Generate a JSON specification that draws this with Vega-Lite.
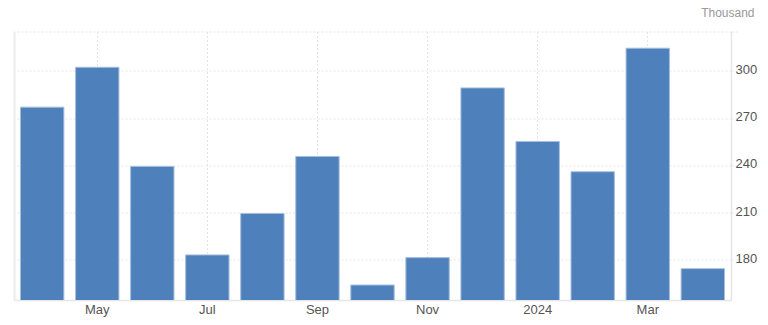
{
  "$schema": "https://vega.github.io/schema/vega-lite/v6.json",
  "width": 717,
  "height": 268.5,
  "autosize": {"type": "none"},
  "padding": {"left": 14, "top": 31.5, "right": 37, "bottom": 25},
  "background": "#ffffff",
  "data": {
    "values": [
      {"month": "2023-04", "value": 277},
      {"month": "2023-05", "value": 302.3},
      {"month": "2023-06", "value": 239.4},
      {"month": "2023-07", "value": 183.2},
      {"month": "2023-08", "value": 209.5},
      {"month": "2023-09", "value": 245.7},
      {"month": "2023-10", "value": 164.1},
      {"month": "2023-11", "value": 181.5},
      {"month": "2023-12", "value": 289.2},
      {"month": "2024-01", "value": 255.2},
      {"month": "2024-02", "value": 236},
      {"month": "2024-03", "value": 314.4},
      {"month": "2024-04", "value": 174.5}
    ]
  },
  "encoding": {
    "x": {
      "field": "month",
      "type": "ordinal",
      "scale": {"paddingInner": 0.212, "paddingOuter": 0.118},
      "axis": {
        "title": null,
        "labelAngle": 0,
        "ticks": false,
        "labelPadding": 3,
        "labelFontSize": 13,
        "labelColor": "#555555",
        "labelFont": "Liberation Sans",
        "domainColor": "#e6e6e6",
        "domainWidth": 1.5,
        "labelExpr": "datum.value == '2023-05' ? 'May' : datum.value == '2023-07' ? 'Jul' : datum.value == '2023-09' ? 'Sep' : datum.value == '2023-11' ? 'Nov' : datum.value == '2024-01' ? '2024' : datum.value == '2024-03' ? 'Mar' : ''",
        "grid": true,
        "gridColor": "#e4e4e4",
        "gridDash": [2, 2],
        "gridOpacity": {
          "condition": {"test": "indexof(['2023-05','2023-07','2023-09','2023-11','2024-01','2024-03'], datum.value) >= 0", "value": 1},
          "value": 0
        }
      }
    }
  },
  "layer": [
    {
      "mark": {"type": "bar", "opacity": 0, "clip": true},
      "encoding": {
        "y": {
          "field": "value",
          "type": "quantitative",
          "scale": {"domain": [154.6, 325], "zero": false, "nice": false},
          "axis": {
            "orient": "left",
            "title": null,
            "labels": false,
            "ticks": false,
            "grid": false,
            "domain": true,
            "domainColor": "#ececec",
            "domainWidth": 2
          }
        }
      }
    },
    {
      "mark": {"type": "bar", "color": "#4e80bc", "stroke": "#a6bedd", "strokeWidth": 1, "clip": true},
      "encoding": {
        "y": {
          "field": "value",
          "type": "quantitative",
          "scale": {"domain": [154.6, 325], "zero": false, "nice": false},
          "axis": {
            "orient": "right",
            "values": [180, 210, 240, 270, 300, 325],
            "labelExpr": "datum.value == 325 ? '' : datum.label",
            "title": "Thousand",
            "titleAngle": 0,
            "titleAlign": "right",
            "titleBaseline": "middle",
            "titleX": 23,
            "titleY": -19,
            "titleFont": "Liberation Sans",
            "titleFontSize": 12,
            "titleFontWeight": "normal",
            "titleColor": "#999999",
            "labelFont": "Liberation Sans",
            "labelFontSize": 13,
            "labelColor": "#555555",
            "labelPadding": -4,
            "labelBaseline": "middle",
            "labelOffset": -1.5,
            "tickSize": 8,
            "tickColor": "#e4e4e4",
            "tickDash": [2, 2],
            "domainColor": "#e6e6e6",
            "domainWidth": 1.5,
            "grid": true,
            "gridColor": "#e4e4e4",
            "gridDash": [2, 2]
          }
        }
      }
    }
  ],
  "resolve": {"axis": {"y": "independent"}},
  "config": {"view": {"stroke": null}}
}
